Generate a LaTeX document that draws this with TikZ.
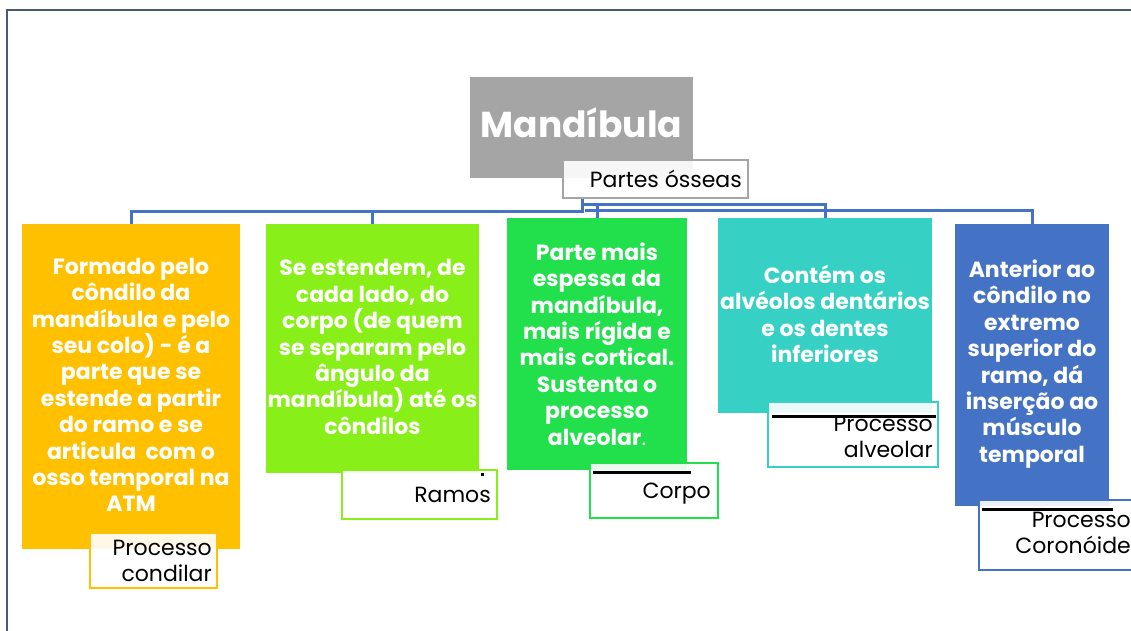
\documentclass[tikz,border=0pt]{standalone}
\usepackage{fontspec}
\newfontfamily\pop{Poppins}
\definecolor{frameC}{HTML}{4A5A72}
\definecolor{grayC}{HTML}{A5A5A5}
\definecolor{orangeC}{HTML}{FFC000}
\definecolor{limeC}{HTML}{88F018}
\definecolor{greenC}{HTML}{22E04C}
\definecolor{tealC}{HTML}{36D1C4}
\definecolor{blueC}{HTML}{4472C4}
\begin{document}
\begin{tikzpicture}[x=1pt,y=-1pt,
  box/.style={rectangle, inner sep=0pt, outer sep=0pt, anchor=north west},
  boxtxt/.style={inner sep=0pt, text=white, align=center, font=\pop\bfseries\fontsize{22}{26.4}\selectfont},
  lbl/.style={rectangle, inner sep=0pt, outer sep=0pt, anchor=north west, line width=2pt, fill=white, fill opacity=0.9},
  lbltxt/.style={inner sep=0pt, text=black, align=right, font=\pop\fontsize{22}{26.2}\selectfont},
  conn/.style={draw=blueC, line width=3pt},
  blk/.style={draw=black, line width=3pt}]
\useasboundingbox (0,0) rectangle (1131,630);
% frame
\draw[frameC, line width=2pt] (7,631) -- (7,10) -- (1132,10);
% boxes
\node[box, fill=grayC, minimum width=223pt, minimum height=101pt] (top) at (470,77) {};
\node[box, fill=orangeC, minimum width=218pt, minimum height=325pt] (b1) at (22,224) {};
\node[box, fill=limeC, minimum width=213pt, minimum height=249pt] (b2) at (266,224) {};
\node[box, fill=greenC, minimum width=180pt, minimum height=252pt] (b3) at (507,218) {};
\node[box, fill=tealC, minimum width=214pt, minimum height=195pt] (b4) at (718,218) {};
\node[box, fill=blueC, minimum width=154pt, minimum height=282pt] (b5) at (955,224) {};
% connectors
\coordinate (hub) at (582,198);
\draw[conn] (hub) -- ++(0,13) -| (b1.north);
\draw[conn] (hub) ++(0,13) -| (b2.north);
\draw[conn] (hub) ++(0,6) -| (b3.north);
\draw[conn] (hub) ++(0,6) -| (b4.north);
\draw[conn] (hub) ++(3,12) -| (b5.north);
% redraw boxes over connector ends
\fill[orangeC] (b1.north west) rectangle (b1.south east);
\fill[limeC] (b2.north west) rectangle (b2.south east);
\fill[greenC] (b3.north west) rectangle (b3.south east);
\fill[tealC] (b4.north west) rectangle (b4.south east);
\fill[blueC] (b5.north west) rectangle (b5.south east);
% box texts
\node[text=white, inner sep=0pt, font=\pop\bfseries\fontsize{36}{40}\selectfont] (ttop) at (581.5,123) {Mandíbula};
\node[boxtxt] (t1) at (131,385) {Formado pelo\\côndilo da\\mandíbula e pelo\\seu colo) - é a\\parte que se\\estende a partir\\do ramo e se\\articula~ com o\\osso temporal na\\ATM};
\node[boxtxt] (t2) at (372.5,347) {Se estendem, de\\cada lado, do\\corpo (de quem\\se separam pelo\\ângulo da\\mandíbula) até os\\côndilos};
\node[boxtxt] (t3) at (597,344) {Parte mais\\espessa da\\mandíbula,\\mais rígida e\\mais cortical.\\Sustenta o\\processo\\alveolar{\fontseries{m}\selectfont.}};
\node[boxtxt] (t4) at (825,314) {Contém os\\alvéolos dentários\\e os dentes\\inferiores};
\node[boxtxt] (t5) at (1032,364) {Anterior ao\\côndilo no\\extremo\\superior do\\ramo, dá\\inserção ao\\músculo\\temporal};
% labels
\node[lbl, draw=grayC, minimum width=185pt, minimum height=38pt] (lp) at (563,160) {};
\node[lbl, draw=orangeC, minimum width=127pt, minimum height=55pt] (l1) at (90,533) {};
\node[lbl, draw=limeC, minimum width=155pt, minimum height=49pt] (l2) at (342,470) {};
\node[lbl, draw=greenC, minimum width=128pt, minimum height=55pt] (l3) at (590,463) {};
\node[lbl, draw=tealC, minimum width=170pt, minimum height=65pt] (l4) at (768,402) {};
\node[lbl, draw=blueC, minimum width=170pt, minimum height=70pt] (l5) at (979,500) {};
% black marks inside labels
\draw[blk] (593,472) -- (691,472);
\draw[blk] (772,416) -- (936,416);
\draw[blk] (982,509) -- (1113,509);
\fill[black] (481,473) rectangle (484,476);
% label texts
\node[lbltxt, anchor=base east] (lpt) at (742,187) {Partes ósseas};
\node[lbltxt, anchor=east] (l1t) at (212,561) {Processo\\condilar};
\node[lbltxt, anchor=base east] (l2t) at (491,502) {Ramos};
\node[lbltxt, anchor=base east] (l3t) at (711,498) {Corpo};
\node[lbltxt, anchor=east] (l4t) at (933,437) {Processo\\alveolar};
\node[lbltxt, anchor=east] (l5t) at (1131,533) {Processo\\Coronóide};
\end{tikzpicture}
\end{document}
